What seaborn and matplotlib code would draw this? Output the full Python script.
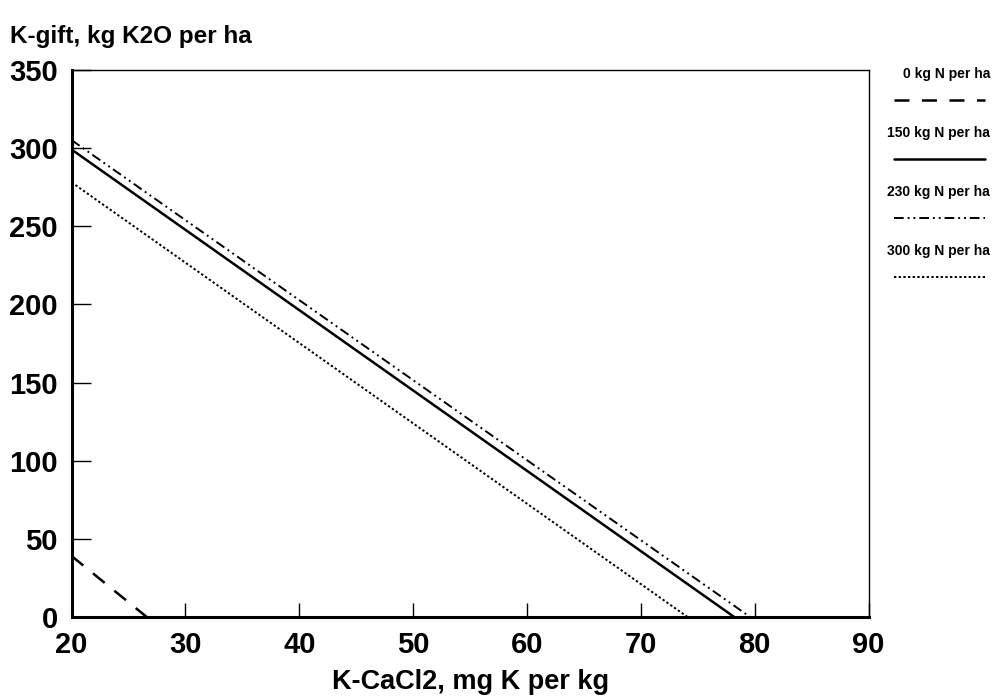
import seaborn as sns
import matplotlib.pyplot as plt
from matplotlib.lines import Line2D
import pandas as pd

# series: value at K-CaCl2 = 20 and where the line reaches 0
labels = ["0 kg N per ha", "150 kg N per ha", "230 kg N per ha", "300 kg N per ha"]
y_at_20 = [39, 299, 305, 278]
x_at_zero = [26.6, 78.2, 79.6, 74.1]
styles = [(0, (6, 5)), "-", (0, (5, 2, 1, 2, 1, 2)), (0, (1.2, 1.2))]
widths = [1.8, 1.8, 1.4, 1.4]

x_ticks = [20, 30, 40, 50, 60, 70, 80, 90]
y_ticks = [0, 50, 100, 150, 200, 250, 300, 350]

sns.set_style("white")
plt.rcParams["font.family"] = ["Liberation Sans", "DejaVu Sans"]
plt.rcParams["text.color"] = "black"
plt.rcParams["axes.labelcolor"] = "black"

fig = plt.figure(figsize=(9.95, 6.98), dpi=100)
ax = fig.add_axes([0.072, 0.116, 0.801, 0.784])

rows = []
for lab, y0, xz in zip(labels, y_at_20, x_at_zero):
    rows.append({"series": lab, "x": 20, "y": y0})
    rows.append({"series": lab, "x": xz, "y": 0})
df = pd.DataFrame(rows)

for lab, ls, lw in zip(labels, styles, widths):
    sub = df[df["series"] == lab]
    sns.lineplot(data=sub, x="x", y="y", ax=ax, color="black",
                 linestyle=ls, linewidth=lw, legend=False)

ax.set_xlim(20, 90)
ax.set_ylim(0, 350)
ax.set_xticks(x_ticks)
ax.set_yticks(y_ticks)
ax.tick_params(bottom=True, left=True, direction="in", width=1,
               colors="black", labelsize=21)
ax.tick_params(axis="x", length=10, pad=10)
ax.tick_params(axis="y", length=14, pad=10)
for t in ax.get_xticklabels() + ax.get_yticklabels():
    t.set_fontweight("bold")

for side in ["top", "right"]:
    ax.spines[side].set_linewidth(1)
for side in ["left", "bottom"]:
    ax.spines[side].set_linewidth(2.2)
for s in ax.spines.values():
    s.set_color("black")

ax.set_xlabel("K-CaCl2, mg K per kg", fontsize=19.5, fontweight="bold", labelpad=7)
ax.set_ylabel("")
fig.text(0.010, 0.938, "K-gift, kg K2O per ha", fontsize=17.5, fontweight="bold")

# legend drawn beside the plot: label above its line sample
legend_top = 0.894
step = 0.0845
for i, (lab, ls, lw) in enumerate(zip(labels, styles, widths)):
    ty = legend_top - i * step
    fig.text(0.995, ty, lab, fontsize=10, fontweight="bold", ha="right", va="center")
    ly = ty - 0.037
    fig.add_artist(Line2D([0.898, 0.99], [ly, ly], transform=fig.transFigure,
                          color="black", linestyle=ls, linewidth=lw))

fig.savefig("out.png", dpi=100)
